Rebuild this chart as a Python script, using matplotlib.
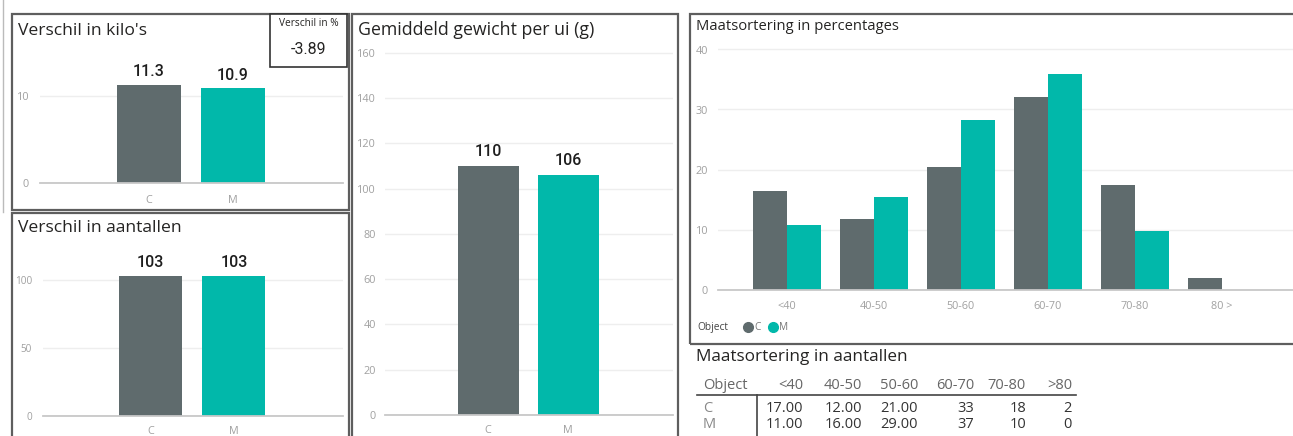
import matplotlib
matplotlib.use("Agg")
import matplotlib.pyplot as plt
from matplotlib.patches import Rectangle
from matplotlib.lines import Line2D

plt.rcParams['font.family'] = ['Open Sans', 'DejaVu Sans']

# ---------------- data ----------------
objects = ['C', 'M']
kilos = [11.3, 10.9]
kilo_diff_pct = -3.89
counts_total = [103, 103]
avg_weight = [110, 106]

size_labels = ['<40', '40-50', '50-60', '60-70', '70-80', '80 >']
pct_C = [16.5, 11.7, 20.4, 32.0, 17.5, 1.9]
pct_M = [10.7, 15.5, 28.2, 35.9, 9.7, 0.0]

table_headers = ['<40', '40-50', '50-60', '60-70', '70-80', '>80']
counts_C = [17, 12, 21, 33, 18, 2]
counts_M = [11, 16, 29, 37, 10, 0]
col_formats = ['{:.2f}', '{:.2f}', '{:.2f}', '{:.0f}', '{:.0f}', '{:.0f}']

# ---------------- style ----------------
COL_C = '#5F6B6D'
COL_M = '#01B8AA'
TITLE_COL = '#252423'
TICK_COL = '#A0A0A0'
GRID_COL = '#EEEEEE'
BASE_COL = '#C8C8C8'
BORDER_COL = '#5E5E5E'
LABEL_FONT = ['Roboto', 'DejaVu Sans']
PX = 0.72  # points per pixel at 100 dpi

W, H = 1293, 436
fig = plt.figure(figsize=(W / 100, H / 100), dpi=100)
fig.patch.set_facecolor('white')


def fx(x):
    return x / W


def fy(y):
    return 1 - y / H


def add_axes_px(x0, y0, x1, y1):
    return fig.add_axes([fx(x0), fy(y1), (x1 - x0) / W, (y1 - y0) / H])


def panel(x0, y0, x1, y1, lw=1.6):
    fig.add_artist(Rectangle((fx(x0), fy(y1)), (x1 - x0) / W, (y1 - y0) / H,
                             transform=fig.transFigure, fill=False,
                             edgecolor=BORDER_COL, linewidth=lw, zorder=5))


def ftext(x, y, s, **kw):
    fig.text(fx(x), fy(y), s, **kw)


def style_axes(ax, ylim, yticks, ypad_px, xpad_px, ysize=7.8):
    ax.set_ylim(*ylim)
    ax.set_yticks(yticks)
    for sp in ['top', 'right', 'left']:
        ax.spines[sp].set_visible(False)
    ax.spines['bottom'].set_color(BASE_COL)
    ax.spines['bottom'].set_linewidth(1.3)
    ax.grid(axis='y', color=GRID_COL, linewidth=1.0)
    ax.set_axisbelow(True)
    ax.tick_params(axis='both', length=0, colors=TICK_COL, labelsize=7.8)
    ax.tick_params(axis='y', pad=ypad_px * PX, labelsize=ysize)
    ax.tick_params(axis='x', pad=xpad_px * PX)
    ax.patch.set_alpha(0)


def small_bars(ax, values, fmt, off_px):
    x = range(len(objects))
    ax.bar(x, values, width=0.76, color=[COL_C, COL_M])
    ax.set_xticks(list(x))
    ax.set_xticklabels(objects)
    ax.set_xlim(-1.29, 2.31)
    for i, v in enumerate(values):
        ax.annotate(fmt.format(v), (i, v), xytext=(0, off_px * PX),
                    textcoords='offset points', ha='center', va='center',
                    fontsize=11.5, fontweight='medium', family=LABEL_FONT,
                    color='#1E1E1E')


# outer left thin line
fig.add_artist(Line2D([fx(3), fx(3)], [fy(0), fy(212)], transform=fig.transFigure,
                      color='#BBBBBB', linewidth=1))

# ---------------- panel 1: Verschil in kilo's ----------------
panel(12, 14, 349, 210)
ax1 = add_axes_px(40, 70, 343, 183)
small_bars(ax1, kilos, '{:.1f}', 13)
style_axes(ax1, (0, 13), [0, 10], 11, 12)
ftext(18, 31, "Verschil in kilo's", fontsize=12.6, color=TITLE_COL, va='center')

# small card
fig.add_artist(Rectangle((fx(270), fy(67)), 77 / W, 53 / H, transform=fig.transFigure,
                         facecolor='white', edgecolor='#333333', linewidth=1.2, zorder=6))
ftext(308.5, 24, 'Verschil in %', fontsize=7.3, color=TITLE_COL, ha='center', va='center', zorder=7)
ftext(308.5, 49, f'{kilo_diff_pct:.2f}', fontsize=11.5, color=TITLE_COL, ha='center', va='center',
      family=LABEL_FONT, zorder=7)

# ---------------- panel 2: Verschil in aantallen ----------------
panel(12, 213, 349, 440)
ax2 = add_axes_px(43, 246, 343, 415.7)
small_bars(ax2, counts_total, '{:.0f}', 13)
style_axes(ax2, (0, 125), [0, 50, 100], 11, 10, ysize=7.2)
ftext(18, 228, 'Verschil in aantallen', fontsize=12.6, color=TITLE_COL, va='center')

# ---------------- panel 3: Gemiddeld gewicht ----------------
panel(352, 14, 678, 440)
ax3 = add_axes_px(385, 50.4, 673, 415)
small_bars(ax3, avg_weight, '{:.0f}', 14.5)
style_axes(ax3, (0, 161), list(range(0, 161, 20)), 9, 10)
ftext(358, 30, 'Gemiddeld gewicht per ui (g)', fontsize=12.8, color=TITLE_COL, va='center')

# ---------------- panel 4: Maatsortering in percentages ----------------
panel(690, 14, 1300, 344)
ax4 = add_axes_px(718, 46.5, 1293, 289.5)
xs = list(range(len(size_labels)))
bw = 0.39
ax4.bar([x - bw / 2 for x in xs], pct_C, width=bw, color=COL_C)
ax4.bar([x + bw / 2 for x in xs], pct_M, width=bw, color=COL_M)
ax4.set_xticks(xs)
ax4.set_xticklabels(size_labels)
ax4.set_xlim(-0.79, 5.82)
style_axes(ax4, (0, 40.5), [0, 10, 20, 30, 40], 10, 11)
ftext(696, 27, 'Maatsortering in percentages', fontsize=10.6, color=TITLE_COL, va='center')

# legend
ftext(697, 327, 'Object', fontsize=7.3, color='#444444', va='center')
for xc, lab, col in [(748, 'C', COL_C), (773, 'M', COL_M)]:
    fig.add_artist(Line2D([fx(xc)], [fy(327)], transform=fig.transFigure, marker='o',
                          markersize=7, color=col, linestyle='none'))
    ftext(xc + 6, 327, lab, fontsize=7.3, color='#777777', va='center')

# ---------------- table: Maatsortering in aantallen ----------------
ftext(696, 357, 'Maatsortering in aantallen', fontsize=12.3, color=TITLE_COL, va='center')
col_right = [803, 862, 918, 974, 1026, 1072]
hdr_y, row_y = 385, [408, 424]
ftext(703, hdr_y, 'Object', fontsize=10.5, color='#666666', va='center')
for xr, h in zip(col_right, table_headers):
    ftext(xr, hdr_y, h, fontsize=10.5, color='#666666', va='center', ha='right')
fig.add_artist(Line2D([fx(697), fx(1076)], [fy(395), fy(395)], transform=fig.transFigure,
                      color='#444444', linewidth=1.2))
fig.add_artist(Line2D([fx(757), fx(757)], [fy(395), fy(436)], transform=fig.transFigure,
                      color='#444444', linewidth=1.2))
for yy, name, vals in zip(row_y, objects, [counts_C, counts_M]):
    ftext(703, yy, name, fontsize=10.5, color='#888888', va='center')
    for xr, v, f in zip(col_right, vals, col_formats):
        ftext(xr, yy, f.format(v), fontsize=10.5, color='#333333', va='center', ha='right')

fig.savefig('out.png', dpi=100, facecolor='white')
